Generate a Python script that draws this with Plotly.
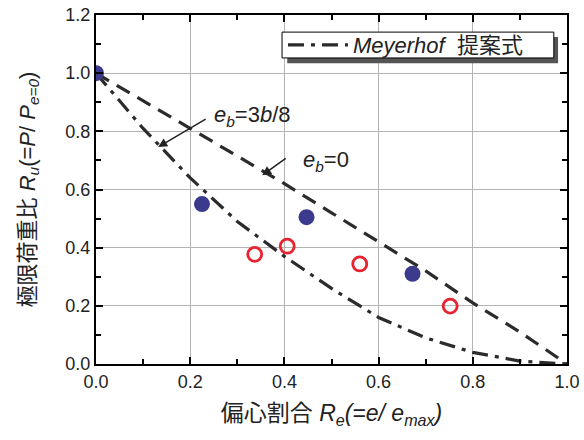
import plotly.graph_objects as go

# Data
curve_x = [0.0, 0.1, 0.2, 0.3, 0.4, 0.5, 0.6, 0.7, 0.8, 0.9, 1.0]
eb0_y = [1.0, 0.905, 0.81, 0.715, 0.62, 0.52, 0.42, 0.32, 0.21, 0.11, 0.0]
eb38_y = [1.0, 0.81, 0.64, 0.49, 0.37, 0.26, 0.16, 0.09, 0.04, 0.01, 0.0]
blue_x = [0.0, 0.225, 0.447, 0.672]
blue_y = [1.0, 0.55, 0.505, 0.31]
red_x = [0.337, 0.406, 0.56, 0.752]
red_y = [0.377, 0.405, 0.344, 0.199]

FONT = "Liberation Sans, Arial, Noto Sans CJK JP, sans-serif"

fig = go.Figure()
fig.add_trace(go.Scatter(x=curve_x, y=eb0_y, mode="lines", showlegend=False,
                         line=dict(color="#2b2b2b", width=3.2, dash="15px,9px")))
fig.add_trace(go.Scatter(x=curve_x, y=eb38_y, mode="lines",
                         name="<i>Meyerhof</i>  提案式",
                         line=dict(color="#2b2b2b", width=3.2, dash="16px,7px,4px,7px")))
fig.add_trace(go.Scatter(x=blue_x, y=blue_y, mode="markers", showlegend=False,
                         marker=dict(size=16, color="#3b3a8c", line=dict(width=0))))
fig.add_trace(go.Scatter(x=red_x, y=red_y, mode="markers", showlegend=False,
                         marker=dict(size=14, color="#e8232f", symbol="circle-open",
                                     line=dict(width=2.8, color="#e8232f"))))

axis_common = dict(
    showline=True, linecolor="black", linewidth=2, mirror="ticks",
    ticks="inside", ticklen=7, tickwidth=1.5, tickcolor="black",
    showgrid=True, gridcolor="#b4b4b4", gridwidth=1,
    zeroline=False, tickformat=".1f",
    tickfont=dict(family=FONT, size=18, color="#222"),
    minor=dict(dtick=0.1, ticks="inside", ticklen=5, tickcolor="black", showgrid=False),
)
fig.update_xaxes(range=[0, 1.0], dtick=0.2, **axis_common,
                 title=dict(text="偏心割合 <i>R<sub>e</sub>(=e/ e<sub>max</sub>)</i>",
                            font=dict(family=FONT, size=23, color="#222"), standoff=14))
fig.update_yaxes(range=[0, 1.2], dtick=0.2, **axis_common,
                 title=dict(text="極限荷重比 <i>R<sub>u</sub></i>(=<i>P</i>/ <i>P<sub>e=0</sub></i>)",
                            font=dict(family=FONT, size=22, color="#222"), standoff=24))

ann_font = dict(family=FONT, size=22, color="#222")
fig.add_annotation(x=0.132, y=0.746, ax=0.236, ay=0.845, axref="x", ayref="y",
                   showarrow=True, arrowhead=2, arrowsize=1.2, arrowwidth=1.5, arrowcolor="#222", text="")
fig.add_annotation(x=0.332, y=0.852, text="<i>e<sub>b</sub></i>=3<i>b</i>/8", showarrow=False, font=ann_font)
fig.add_annotation(x=0.353, y=0.649, ax=0.406, ay=0.711, axref="x", ayref="y",
                   showarrow=True, arrowhead=2, arrowsize=1.2, arrowwidth=1.5, arrowcolor="#222", text="")
fig.add_annotation(x=0.488, y=0.697, text="<i>e<sub>b</sub></i>=0", showarrow=False, font=ann_font)

# legend frame with shadow
fig.add_shape(type="rect", xref="paper", yref="paper", x0=0.406, x1=0.981, y0=0.862, y1=0.937,
              fillcolor="#555", line=dict(width=0), layer="above")
fig.add_shape(type="rect", xref="paper", yref="paper", x0=0.395, x1=0.972, y0=0.877, y1=0.951,
              fillcolor="white", line=dict(width=1, color="black"), layer="above")

fig.update_layout(
    template="none",
    width=584, height=440, margin=dict(l=96, r=17, t=15, b=76),
    plot_bgcolor="white", paper_bgcolor="white",
    legend=dict(x=0.397, y=0.914, xanchor="left", yanchor="middle", bgcolor="rgba(0,0,0,0)",
                borderwidth=0, font=dict(family=FONT, size=22, color="#222"),
                itemwidth=60, tracegroupgap=0),
)
fig.write_html("out.html")
